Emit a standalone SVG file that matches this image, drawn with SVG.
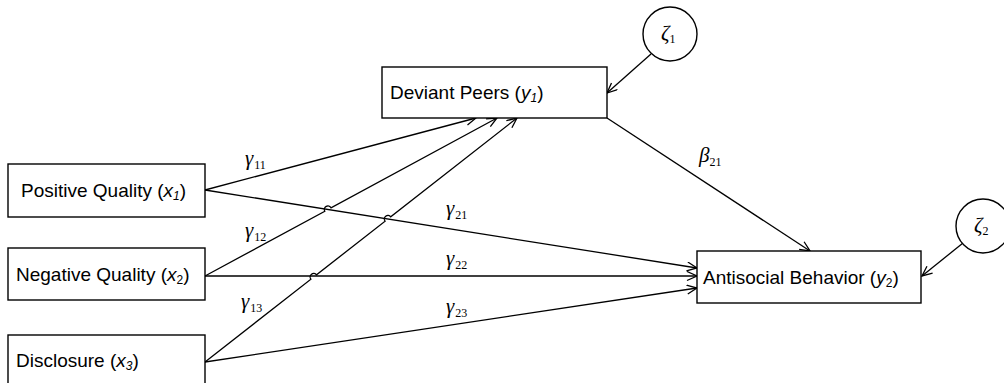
<svg xmlns="http://www.w3.org/2000/svg" width="1004" height="383" viewBox="0 0 1004 383">
<style>
.box{fill:#fff;stroke:#000;stroke-width:1.4}
.lbl{font-family:"Liberation Sans",Arial,sans-serif;font-size:19px;fill:#000}
.it{font-style:italic}
.sub{font-size:12px}
.gr{font-family:"Liberation Serif","Times New Roman",serif;font-size:21px;font-style:italic;fill:#000}
.gs{font-style:normal;font-size:12px}
.edge{fill:none;stroke:#000;stroke-width:1.3}
.circ{fill:#fff;stroke:#000;stroke-width:1.4}
</style>
<defs>
<marker id="ah" markerUnits="userSpaceOnUse" markerWidth="14" markerHeight="12" refX="11" refY="5" orient="auto">
<path d="M1,0.5 L11,5 L1,9.5" fill="none" stroke="#000" stroke-width="1.3"/>
</marker>
</defs>
<g id="connectors">
<path class="edge" marker-end="url(#ah)" d="M205,190 L476,118"/>
<path class="edge" marker-end="url(#ah)" d="M205,276 L324.8,211.2 A3.5,3.5 0 0 1 331,207.8 L497,118"/>
<path class="edge" marker-end="url(#ah)" d="M205,362 L310.9,279.2 A3.5,3.5 0 0 1 316.5,274.8 L385.1,221.2 A3.5,3.5 0 0 1 390.7,216.8 L517,118"/>
<path class="edge" marker-end="url(#ah)" d="M205,190 L697,268"/>
<path class="edge" marker-end="url(#ah)" d="M205,276 L697,276"/>
<path class="edge" marker-end="url(#ah)" d="M205,362 L697,288"/>
<path class="edge" marker-end="url(#ah)" d="M607,118 L810,251"/>
<path class="edge" marker-end="url(#ah)" d="M651,54 L607,93"/>
<path class="edge" marker-end="url(#ah)" d="M963,243 L922,276"/>
<g id="edge-labels">
<text class="gr" x="245" y="165">γ<tspan class="gs" dx="1" dy="4">11</tspan></text>
<text class="gr" x="446" y="215">γ<tspan class="gs" dx="1" dy="4">21</tspan></text>
<text class="gr" x="245" y="237">γ<tspan class="gs" dx="1" dy="4">12</tspan></text>
<text class="gr" x="446" y="265">γ<tspan class="gs" dx="1" dy="4">22</tspan></text>
<text class="gr" x="241" y="308">γ<tspan class="gs" dx="1" dy="4">13</tspan></text>
<text class="gr" x="446" y="313">γ<tspan class="gs" dx="1" dy="4">23</tspan></text>
<text class="gr" x="699" y="162">β<tspan class="gs" dx="0" dy="4">21</tspan></text>
</g>
</g>
<g id="zeta1">
<circle class="circ" cx="670" cy="34" r="27"/>
<text class="gr" x="661" y="40">ζ<tspan class="gs" dy="3">1</tspan></text>
</g>
<g id="zeta2">
<circle class="circ" cx="983" cy="226" r="27"/>
<text class="gr" x="974" y="232">ζ<tspan class="gs" dy="3">2</tspan></text>
</g>
<g id="deviant-peers">
<rect class="box" x="382" y="67" width="225" height="51"/>
<text class="lbl" x="390" y="99">Deviant Peers (<tspan class="it">y</tspan><tspan class="it sub" dy="3">1</tspan><tspan dy="-3">)</tspan></text>
</g>
<g id="positive-quality">
<rect class="box" x="8" y="164" width="197" height="53"/>
<text class="lbl" x="21" y="197">Positive Quality (<tspan class="it">x</tspan><tspan class="it sub" dy="3">1</tspan><tspan dy="-3">)</tspan></text>
</g>
<g id="negative-quality">
<rect class="box" x="8" y="248" width="197" height="52"/>
<text class="lbl" x="16" y="281">Negative Quality (<tspan class="it">x</tspan><tspan class="sub" dy="3">2</tspan><tspan dy="-3">)</tspan></text>
</g>
<g id="disclosure">
<rect class="box" x="8" y="335" width="197" height="60"/>
<text class="lbl" x="16" y="367">Disclosure (<tspan class="it">x</tspan><tspan class="it sub" dy="3">3</tspan><tspan dy="-3">)</tspan></text>
</g>
<g id="antisocial-behavior">
<rect class="box" x="697" y="251" width="224" height="52"/>
<text class="lbl" x="703" y="284">Antisocial Behavior (<tspan class="it">y</tspan><tspan class="sub" dy="3">2</tspan><tspan dy="-3">)</tspan></text>
</g>
</svg>
